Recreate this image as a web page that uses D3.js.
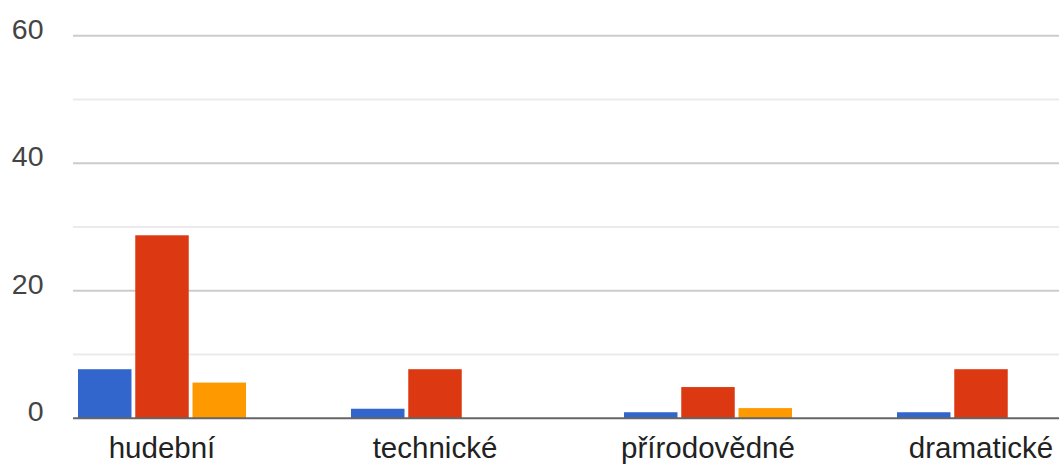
<!DOCTYPE html>
<html>
<head>
<meta charset="utf-8">
<script src="https://cdn.jsdelivr.net/npm/d3@7/dist/d3.min.js"></script>
<style>
  html, body { margin: 0; padding: 0; background: #fff; }
  svg { display: block; }
</style>
</head>
<body>
<svg id="chart" width="1059" height="464"></svg>
<script>
const categories = ["hudební", "technické", "přírodovědné", "dramatické"];
const seriesNames = ["s1", "s2", "s3"];
const seriesBlue = [7.7, 1.5, 0.95, 0.95];
const seriesRed = [28.7, 7.7, 4.9, 7.7];
const seriesOrange = [5.6, 0, 1.6, 0];
const yTicks = [0, 20, 40, 60];
const yMinorTicks = [10, 30, 50];

const colors = ["#3366cc", "#dc3912", "#ff9900"];
const series = [seriesBlue, seriesRed, seriesOrange];

const svg = d3.select("#chart");
const W = 1059;
const plotLeft = 73;

const y = d3.scaleLinear().domain([0, 60]).range([418.3, 35.7]);

const x0 = d3.scaleBand()
  .domain(categories)
  .range([25.5, 25.5 + 4 * 273])
  .paddingInner(105 / 273)
  .paddingOuter(105 / 273 / 2);

const x1 = d3.scaleBand()
  .domain(seriesNames)
  .range([0, x0.bandwidth()])
  .paddingInner(0.066)
  .paddingOuter(0);

// minor gridlines
svg.append("g").selectAll("line").data(yMinorTicks).join("line")
  .attr("x1", plotLeft).attr("x2", W)
  .attr("y1", d => y(d)).attr("y2", d => y(d))
  .attr("stroke", "#ebebeb").attr("stroke-width", 2);

// major gridlines
svg.append("g").selectAll("line").data(yTicks.filter(d => d !== 0)).join("line")
  .attr("x1", plotLeft).attr("x2", W)
  .attr("y1", d => y(d)).attr("y2", d => y(d))
  .attr("stroke", "#cccccc").attr("stroke-width", 2);

// bars
const groups = svg.append("g").selectAll("g").data(categories).join("g")
  .attr("transform", d => `translate(${x0(d)},0)`);

groups.selectAll("rect")
  .data((c, i) => series.map((s, j) => ({ key: seriesNames[j], value: s[i], color: colors[j] })))
  .join("rect")
  .attr("x", d => x1(d.key))
  .attr("width", x1.bandwidth())
  .attr("y", d => y(d.value))
  .attr("height", d => y(0) - y(d.value))
  .attr("fill", d => d.color);

// baseline
svg.append("line")
  .attr("x1", plotLeft).attr("x2", W)
  .attr("y1", y(0)).attr("y2", y(0))
  .attr("stroke", "#666666").attr("stroke-width", 2);

// y-axis labels
svg.append("g").selectAll("text").data(yTicks).join("text")
  .attr("x", 43.5)
  .attr("y", d => y(d) + 3)
  .attr("text-anchor", "end")
  .attr("font-family", "Liberation Sans, Arial, sans-serif")
  .attr("font-size", 28.5)
  .attr("fill", "#444444")
  .text(d => d);

// x-axis labels
svg.append("g").selectAll("text").data(categories).join("text")
  .attr("x", d => x0(d) + x0.bandwidth() / 2)
  .attr("y", 457.5)
  .attr("text-anchor", "middle")
  .attr("font-family", "Liberation Sans, Arial, sans-serif")
  .attr("font-size", 29.5)
  .attr("fill", "#222222")
  .text(d => d);
</script>
</body>
</html>
